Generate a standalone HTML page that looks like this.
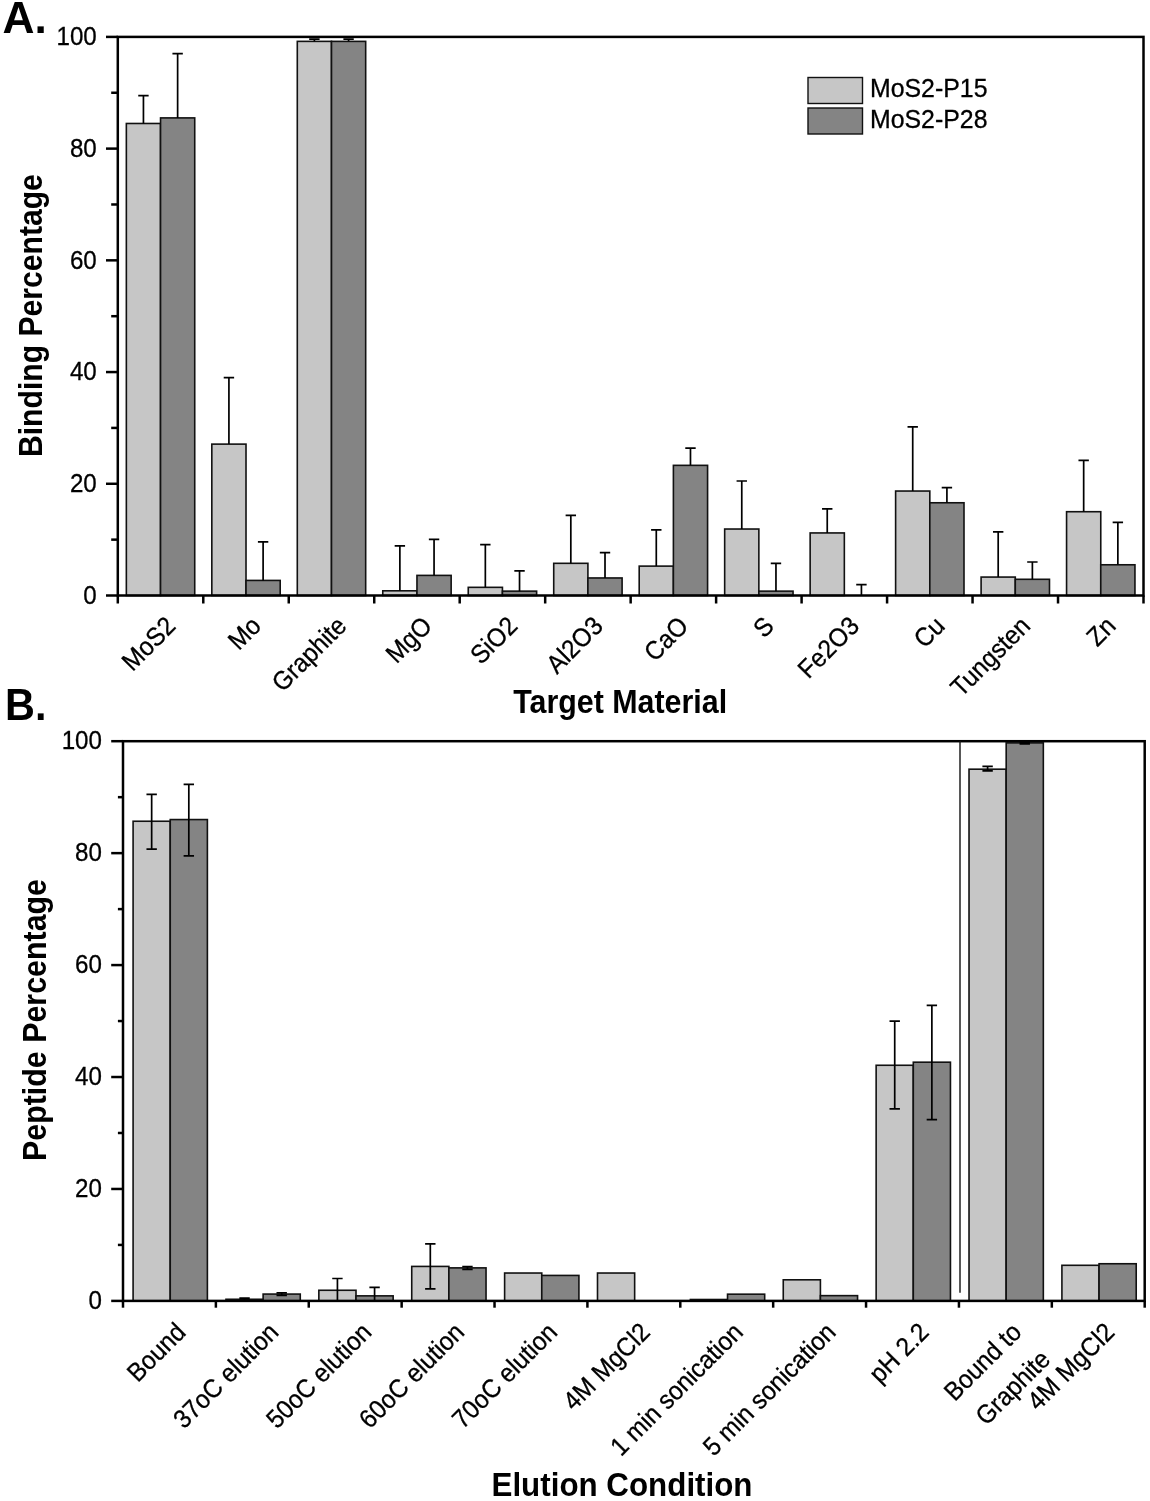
<!DOCTYPE html>
<html><head><meta charset="utf-8"><title>Figure</title><style>html,body{margin:0;padding:0;background:#fff}svg{will-change:transform}svg text{font-family:"Liberation Sans",sans-serif;-webkit-font-smoothing:antialiased}</style></head><body><svg width="1150" height="1501" viewBox="0 0 1150 1501" style="display:block">
<rect width="1150" height="1501" fill="#fff"/>
<g font-family="Liberation Sans, sans-serif" fill="#111">
<rect x="126.35" y="123.48" width="34.19" height="472.02" fill="#c6c6c6" stroke="#111" stroke-width="1.6"/>
<path d="M143.44 95.55V123.48M138.24 95.55H148.64" stroke="#000" stroke-width="1.7" fill="none"/>
<rect x="160.54" y="117.90" width="34.19" height="477.60" fill="#848484" stroke="#111" stroke-width="1.6"/>
<path d="M177.63 53.66V117.90M172.43 53.66H182.83" stroke="#000" stroke-width="1.7" fill="none"/>
<rect x="211.82" y="444.12" width="34.19" height="151.38" fill="#c6c6c6" stroke="#111" stroke-width="1.6"/>
<path d="M228.92 377.65V444.12M223.72 377.65H234.12" stroke="#000" stroke-width="1.7" fill="none"/>
<rect x="246.01" y="580.42" width="34.19" height="15.08" fill="#848484" stroke="#111" stroke-width="1.6"/>
<path d="M263.11 541.87V580.42M257.91 541.87H268.31" stroke="#000" stroke-width="1.7" fill="none"/>
<rect x="297.30" y="41.37" width="34.19" height="554.13" fill="#c6c6c6" stroke="#111" stroke-width="1.6"/>
<path d="M314.39 39.13V41.37M309.19 39.13H319.59" stroke="#000" stroke-width="1.7" fill="none"/>
<rect x="331.49" y="41.37" width="34.19" height="554.13" fill="#848484" stroke="#111" stroke-width="1.6"/>
<path d="M348.58 39.13V41.37M343.38 39.13H353.78" stroke="#000" stroke-width="1.7" fill="none"/>
<rect x="382.77" y="590.81" width="34.19" height="4.69" fill="#c6c6c6" stroke="#111" stroke-width="1.6"/>
<path d="M399.87 545.78V590.81M394.67 545.78H405.07" stroke="#000" stroke-width="1.7" fill="none"/>
<rect x="416.96" y="575.39" width="34.19" height="20.11" fill="#848484" stroke="#111" stroke-width="1.6"/>
<path d="M434.06 539.36V575.39M428.86 539.36H439.26" stroke="#000" stroke-width="1.7" fill="none"/>
<rect x="468.25" y="587.34" width="34.19" height="8.16" fill="#c6c6c6" stroke="#111" stroke-width="1.6"/>
<path d="M485.34 544.67V587.34M480.14 544.67H490.54" stroke="#000" stroke-width="1.7" fill="none"/>
<rect x="502.44" y="591.14" width="34.19" height="4.36" fill="#848484" stroke="#111" stroke-width="1.6"/>
<path d="M519.53 570.92V591.14M514.33 570.92H524.73" stroke="#000" stroke-width="1.7" fill="none"/>
<rect x="553.72" y="563.32" width="34.19" height="32.18" fill="#c6c6c6" stroke="#111" stroke-width="1.6"/>
<path d="M570.82 515.34V563.32M565.62 515.34H576.02" stroke="#000" stroke-width="1.7" fill="none"/>
<rect x="587.91" y="577.96" width="34.19" height="17.54" fill="#848484" stroke="#111" stroke-width="1.6"/>
<path d="M605.01 552.54V577.96M599.81 552.54H610.21" stroke="#000" stroke-width="1.7" fill="none"/>
<rect x="639.20" y="566.12" width="34.19" height="29.38" fill="#c6c6c6" stroke="#111" stroke-width="1.6"/>
<path d="M656.29 529.92V566.12M651.09 529.92H661.49" stroke="#000" stroke-width="1.7" fill="none"/>
<rect x="673.39" y="465.35" width="34.19" height="130.15" fill="#848484" stroke="#111" stroke-width="1.6"/>
<path d="M690.48 448.03V465.35M685.28 448.03H695.68" stroke="#000" stroke-width="1.7" fill="none"/>
<rect x="724.67" y="529.03" width="34.19" height="66.47" fill="#c6c6c6" stroke="#111" stroke-width="1.6"/>
<path d="M741.77 480.99V529.03M736.57 480.99H746.97" stroke="#000" stroke-width="1.7" fill="none"/>
<rect x="758.86" y="591.14" width="34.19" height="4.36" fill="#848484" stroke="#111" stroke-width="1.6"/>
<path d="M775.96 563.32V591.14M770.76 563.32H781.16" stroke="#000" stroke-width="1.7" fill="none"/>
<rect x="810.15" y="532.94" width="34.19" height="62.56" fill="#c6c6c6" stroke="#111" stroke-width="1.6"/>
<path d="M827.24 508.92V532.94M822.04 508.92H832.44" stroke="#000" stroke-width="1.7" fill="none"/>
<path d="M861.43 584.55V595.50M856.23 584.55H866.63" stroke="#000" stroke-width="1.7" fill="none"/>
<rect x="895.62" y="491.04" width="34.19" height="104.46" fill="#c6c6c6" stroke="#111" stroke-width="1.6"/>
<path d="M912.72 426.80V491.04M907.52 426.80H917.92" stroke="#000" stroke-width="1.7" fill="none"/>
<rect x="929.81" y="502.77" width="34.19" height="92.73" fill="#848484" stroke="#111" stroke-width="1.6"/>
<path d="M946.91 487.69V502.77M941.71 487.69H952.11" stroke="#000" stroke-width="1.7" fill="none"/>
<rect x="981.10" y="577.07" width="34.19" height="18.43" fill="#c6c6c6" stroke="#111" stroke-width="1.6"/>
<path d="M998.19 531.82V577.07M992.99 531.82H1003.39" stroke="#000" stroke-width="1.7" fill="none"/>
<rect x="1015.29" y="579.30" width="34.19" height="16.20" fill="#848484" stroke="#111" stroke-width="1.6"/>
<path d="M1032.38 561.98V579.30M1027.18 561.98H1037.58" stroke="#000" stroke-width="1.7" fill="none"/>
<rect x="1066.57" y="511.71" width="34.19" height="83.79" fill="#c6c6c6" stroke="#111" stroke-width="1.6"/>
<path d="M1083.67 460.32V511.71M1078.47 460.32H1088.87" stroke="#000" stroke-width="1.7" fill="none"/>
<rect x="1100.76" y="564.78" width="34.19" height="30.72" fill="#848484" stroke="#111" stroke-width="1.6"/>
<path d="M1117.86 522.32V564.78M1112.66 522.32H1123.06" stroke="#000" stroke-width="1.7" fill="none"/>
<rect x="117.8" y="36.9" width="1025.7" height="558.6" fill="none" stroke="#000" stroke-width="2.5"/>
<line x1="106.0" x2="117.8" y1="595.50" y2="595.50" stroke="#000" stroke-width="2.5"/>
<text transform="translate(96.80 603.70) scale(0.93 1)" font-size="26" text-anchor="end" fill="#000" stroke="#000" stroke-width="0.3">0</text>
<line x1="111.2" x2="117.8" y1="539.64" y2="539.64" stroke="#000" stroke-width="2.5"/>
<line x1="106.0" x2="117.8" y1="483.78" y2="483.78" stroke="#000" stroke-width="2.5"/>
<text transform="translate(96.80 491.98) scale(0.93 1)" font-size="26" text-anchor="end" fill="#000" stroke="#000" stroke-width="0.3">20</text>
<line x1="111.2" x2="117.8" y1="427.92" y2="427.92" stroke="#000" stroke-width="2.5"/>
<line x1="106.0" x2="117.8" y1="372.06" y2="372.06" stroke="#000" stroke-width="2.5"/>
<text transform="translate(96.80 380.26) scale(0.93 1)" font-size="26" text-anchor="end" fill="#000" stroke="#000" stroke-width="0.3">40</text>
<line x1="111.2" x2="117.8" y1="316.20" y2="316.20" stroke="#000" stroke-width="2.5"/>
<line x1="106.0" x2="117.8" y1="260.34" y2="260.34" stroke="#000" stroke-width="2.5"/>
<text transform="translate(96.80 268.54) scale(0.93 1)" font-size="26" text-anchor="end" fill="#000" stroke="#000" stroke-width="0.3">60</text>
<line x1="111.2" x2="117.8" y1="204.48" y2="204.48" stroke="#000" stroke-width="2.5"/>
<line x1="106.0" x2="117.8" y1="148.62" y2="148.62" stroke="#000" stroke-width="2.5"/>
<text transform="translate(96.80 156.82) scale(0.93 1)" font-size="26" text-anchor="end" fill="#000" stroke="#000" stroke-width="0.3">80</text>
<line x1="111.2" x2="117.8" y1="92.76" y2="92.76" stroke="#000" stroke-width="2.5"/>
<line x1="106.0" x2="117.8" y1="36.90" y2="36.90" stroke="#000" stroke-width="2.5"/>
<text transform="translate(96.80 45.10) scale(0.93 1)" font-size="26" text-anchor="end" fill="#000" stroke="#000" stroke-width="0.3">100</text>
<line x1="117.80" x2="117.80" y1="595.5" y2="603.5" stroke="#000" stroke-width="2.5"/>
<line x1="203.28" x2="203.28" y1="595.5" y2="603.5" stroke="#000" stroke-width="2.5"/>
<line x1="288.75" x2="288.75" y1="595.5" y2="603.5" stroke="#000" stroke-width="2.5"/>
<line x1="374.23" x2="374.23" y1="595.5" y2="603.5" stroke="#000" stroke-width="2.5"/>
<line x1="459.70" x2="459.70" y1="595.5" y2="603.5" stroke="#000" stroke-width="2.5"/>
<line x1="545.18" x2="545.18" y1="595.5" y2="603.5" stroke="#000" stroke-width="2.5"/>
<line x1="630.65" x2="630.65" y1="595.5" y2="603.5" stroke="#000" stroke-width="2.5"/>
<line x1="716.12" x2="716.12" y1="595.5" y2="603.5" stroke="#000" stroke-width="2.5"/>
<line x1="801.60" x2="801.60" y1="595.5" y2="603.5" stroke="#000" stroke-width="2.5"/>
<line x1="887.08" x2="887.08" y1="595.5" y2="603.5" stroke="#000" stroke-width="2.5"/>
<line x1="972.55" x2="972.55" y1="595.5" y2="603.5" stroke="#000" stroke-width="2.5"/>
<line x1="1058.03" x2="1058.03" y1="595.5" y2="603.5" stroke="#000" stroke-width="2.5"/>
<line x1="1143.50" x2="1143.50" y1="595.5" y2="603.5" stroke="#000" stroke-width="2.5"/>
<text transform="translate(177.04 627.50) rotate(-45) scale(0.93 1)" font-size="26" text-anchor="end" fill="#000" stroke="#000" stroke-width="0.3">MoS2</text>
<text transform="translate(262.51 627.50) rotate(-45) scale(0.93 1)" font-size="26" text-anchor="end" fill="#000" stroke="#000" stroke-width="0.3">Mo</text>
<text transform="translate(347.99 627.50) rotate(-45) scale(0.93 1)" font-size="26" text-anchor="end" fill="#000" stroke="#000" stroke-width="0.3">Graphite</text>
<text transform="translate(433.46 627.50) rotate(-45) scale(0.93 1)" font-size="26" text-anchor="end" fill="#000" stroke="#000" stroke-width="0.3">MgO</text>
<text transform="translate(518.94 627.50) rotate(-45) scale(0.93 1)" font-size="26" text-anchor="end" fill="#000" stroke="#000" stroke-width="0.3">SiO2</text>
<text transform="translate(604.41 627.50) rotate(-45) scale(0.93 1)" font-size="26" text-anchor="end" fill="#000" stroke="#000" stroke-width="0.3">Al2O3</text>
<text transform="translate(689.89 627.50) rotate(-45) scale(0.93 1)" font-size="26" text-anchor="end" fill="#000" stroke="#000" stroke-width="0.3">CaO</text>
<text transform="translate(775.36 627.50) rotate(-45) scale(0.93 1)" font-size="26" text-anchor="end" fill="#000" stroke="#000" stroke-width="0.3">S</text>
<text transform="translate(860.84 627.50) rotate(-45) scale(0.93 1)" font-size="26" text-anchor="end" fill="#000" stroke="#000" stroke-width="0.3">Fe2O3</text>
<text transform="translate(946.31 627.50) rotate(-45) scale(0.93 1)" font-size="26" text-anchor="end" fill="#000" stroke="#000" stroke-width="0.3">Cu</text>
<text transform="translate(1031.79 627.50) rotate(-45) scale(0.93 1)" font-size="26" text-anchor="end" fill="#000" stroke="#000" stroke-width="0.3">Tungsten</text>
<text transform="translate(1117.26 627.50) rotate(-45) scale(0.93 1)" font-size="26" text-anchor="end" fill="#000" stroke="#000" stroke-width="0.3">Zn</text>
<rect x="808" y="77.5" width="54.5" height="26" fill="#c6c6c6" stroke="#111" stroke-width="1.4"/>
<rect x="808" y="108" width="54.5" height="26" fill="#848484" stroke="#111" stroke-width="1.4"/>
<text transform="translate(870.00 97.00) scale(0.995 1)" font-size="25" text-anchor="start" fill="#000" stroke="#000" stroke-width="0.3">MoS2-P15</text>
<text transform="translate(870.00 128.20) scale(0.995 1)" font-size="25" text-anchor="start" fill="#000" stroke="#000" stroke-width="0.3">MoS2-P28</text>
<text transform="translate(2.50 33.00) scale(0.985 1)" font-size="45" text-anchor="start" font-weight="bold" fill="#000">A.</text>
<text transform="translate(620.20 713.20) scale(0.935 1)" font-size="32.5" text-anchor="middle" font-weight="bold" fill="#000">Target Material</text>
<text transform="translate(42.00 315.60) rotate(-90) scale(0.927 1)" font-size="32.5" text-anchor="middle" font-weight="bold" fill="#000">Binding Percentage</text>
<rect x="133.09" y="821.24" width="37.15" height="479.66" fill="#c6c6c6" stroke="#111" stroke-width="1.6"/>
<path d="M151.66 794.37V849.22M146.46 794.37H156.86M146.46 849.22H156.86" stroke="#000" stroke-width="1.7" fill="none"/>
<rect x="170.24" y="819.56" width="37.15" height="481.34" fill="#848484" stroke="#111" stroke-width="1.6"/>
<path d="M188.82 784.30V855.94M183.62 784.30H194.02M183.62 855.94H194.02" stroke="#000" stroke-width="1.7" fill="none"/>
<rect x="225.97" y="1299.28" width="37.15" height="1.62" fill="#c6c6c6" stroke="#111" stroke-width="1.6"/>
<path d="M244.55 1298.10V1300.34M239.35 1298.10H249.75M239.35 1300.34H249.75" stroke="#000" stroke-width="1.7" fill="none"/>
<rect x="263.12" y="1294.07" width="37.15" height="6.83" fill="#848484" stroke="#111" stroke-width="1.6"/>
<path d="M281.70 1292.78V1295.30M276.50 1292.78H286.90M276.50 1295.30H286.90" stroke="#000" stroke-width="1.7" fill="none"/>
<rect x="318.85" y="1290.27" width="37.15" height="10.63" fill="#c6c6c6" stroke="#111" stroke-width="1.6"/>
<path d="M337.43 1278.51V1300.90M332.23 1278.51H342.63" stroke="#000" stroke-width="1.7" fill="none"/>
<rect x="356.00" y="1295.86" width="37.15" height="5.04" fill="#848484" stroke="#111" stroke-width="1.6"/>
<path d="M374.58 1287.47V1300.90M369.38 1287.47H379.78" stroke="#000" stroke-width="1.7" fill="none"/>
<rect x="411.73" y="1266.42" width="37.15" height="34.48" fill="#c6c6c6" stroke="#111" stroke-width="1.6"/>
<path d="M430.31 1243.81V1288.87M425.11 1243.81H435.51M425.11 1288.87H435.51" stroke="#000" stroke-width="1.7" fill="none"/>
<rect x="448.89" y="1267.88" width="37.15" height="33.02" fill="#848484" stroke="#111" stroke-width="1.6"/>
<path d="M467.46 1266.48V1269.28M462.26 1266.48H472.66M462.26 1269.28H472.66" stroke="#000" stroke-width="1.7" fill="none"/>
<rect x="504.62" y="1273.03" width="37.15" height="27.87" fill="#c6c6c6" stroke="#111" stroke-width="1.6"/>
<rect x="541.77" y="1275.43" width="37.15" height="25.47" fill="#848484" stroke="#111" stroke-width="1.6"/>
<rect x="597.50" y="1273.03" width="37.15" height="27.87" fill="#c6c6c6" stroke="#111" stroke-width="1.6"/>
<rect x="690.38" y="1299.50" width="37.15" height="1.40" fill="#c6c6c6" stroke="#111" stroke-width="1.6"/>
<rect x="727.53" y="1294.18" width="37.15" height="6.72" fill="#848484" stroke="#111" stroke-width="1.6"/>
<rect x="783.26" y="1279.80" width="37.15" height="21.10" fill="#c6c6c6" stroke="#111" stroke-width="1.6"/>
<rect x="820.41" y="1295.64" width="37.15" height="5.26" fill="#848484" stroke="#111" stroke-width="1.6"/>
<rect x="876.14" y="1065.27" width="37.15" height="235.63" fill="#c6c6c6" stroke="#111" stroke-width="1.6"/>
<path d="M894.72 1021.05V1108.92M889.52 1021.05H899.92M889.52 1108.92H899.92" stroke="#000" stroke-width="1.7" fill="none"/>
<rect x="913.30" y="1062.19" width="37.15" height="238.71" fill="#848484" stroke="#111" stroke-width="1.6"/>
<path d="M931.87 1005.38V1119.56M926.67 1005.38H937.07M926.67 1119.56H937.07" stroke="#000" stroke-width="1.7" fill="none"/>
<rect x="969.02" y="769.19" width="37.15" height="531.72" fill="#c6c6c6" stroke="#111" stroke-width="1.6"/>
<path d="M987.60 766.39V770.86M982.40 766.39H992.80M982.40 770.86H992.80" stroke="#000" stroke-width="1.7" fill="none"/>
<rect x="1006.18" y="742.88" width="37.15" height="558.02" fill="#848484" stroke="#111" stroke-width="1.6"/>
<path d="M1024.75 742.32V744.00M1019.55 742.32H1029.95M1019.55 744.00H1029.95" stroke="#000" stroke-width="1.7" fill="none"/>
<rect x="1061.91" y="1265.30" width="37.15" height="35.60" fill="#c6c6c6" stroke="#111" stroke-width="1.6"/>
<rect x="1099.06" y="1263.74" width="37.15" height="37.16" fill="#848484" stroke="#111" stroke-width="1.6"/>
<rect x="123" y="741.2" width="1021.7" height="559.7" fill="none" stroke="#000" stroke-width="2.5"/>
<line x1="111.2" x2="123" y1="1300.90" y2="1300.90" stroke="#000" stroke-width="2.5"/>
<text transform="translate(102.00 1309.10) scale(0.93 1)" font-size="26" text-anchor="end" fill="#000" stroke="#000" stroke-width="0.3">0</text>
<line x1="117.9" x2="123" y1="1244.93" y2="1244.93" stroke="#000" stroke-width="2.5"/>
<line x1="111.2" x2="123" y1="1188.96" y2="1188.96" stroke="#000" stroke-width="2.5"/>
<text transform="translate(102.00 1197.16) scale(0.93 1)" font-size="26" text-anchor="end" fill="#000" stroke="#000" stroke-width="0.3">20</text>
<line x1="117.9" x2="123" y1="1132.99" y2="1132.99" stroke="#000" stroke-width="2.5"/>
<line x1="111.2" x2="123" y1="1077.02" y2="1077.02" stroke="#000" stroke-width="2.5"/>
<text transform="translate(102.00 1085.22) scale(0.93 1)" font-size="26" text-anchor="end" fill="#000" stroke="#000" stroke-width="0.3">40</text>
<line x1="117.9" x2="123" y1="1021.05" y2="1021.05" stroke="#000" stroke-width="2.5"/>
<line x1="111.2" x2="123" y1="965.08" y2="965.08" stroke="#000" stroke-width="2.5"/>
<text transform="translate(102.00 973.28) scale(0.93 1)" font-size="26" text-anchor="end" fill="#000" stroke="#000" stroke-width="0.3">60</text>
<line x1="117.9" x2="123" y1="909.11" y2="909.11" stroke="#000" stroke-width="2.5"/>
<line x1="111.2" x2="123" y1="853.14" y2="853.14" stroke="#000" stroke-width="2.5"/>
<text transform="translate(102.00 861.34) scale(0.93 1)" font-size="26" text-anchor="end" fill="#000" stroke="#000" stroke-width="0.3">80</text>
<line x1="117.9" x2="123" y1="797.17" y2="797.17" stroke="#000" stroke-width="2.5"/>
<line x1="111.2" x2="123" y1="741.20" y2="741.20" stroke="#000" stroke-width="2.5"/>
<text transform="translate(102.00 749.40) scale(0.93 1)" font-size="26" text-anchor="end" fill="#000" stroke="#000" stroke-width="0.3">100</text>
<line x1="123.00" x2="123.00" y1="1300.9" y2="1307.7" stroke="#000" stroke-width="2.5"/>
<line x1="215.88" x2="215.88" y1="1300.9" y2="1307.7" stroke="#000" stroke-width="2.5"/>
<line x1="308.76" x2="308.76" y1="1300.9" y2="1307.7" stroke="#000" stroke-width="2.5"/>
<line x1="401.65" x2="401.65" y1="1300.9" y2="1307.7" stroke="#000" stroke-width="2.5"/>
<line x1="494.53" x2="494.53" y1="1300.9" y2="1307.7" stroke="#000" stroke-width="2.5"/>
<line x1="587.41" x2="587.41" y1="1300.9" y2="1307.7" stroke="#000" stroke-width="2.5"/>
<line x1="680.29" x2="680.29" y1="1300.9" y2="1307.7" stroke="#000" stroke-width="2.5"/>
<line x1="773.17" x2="773.17" y1="1300.9" y2="1307.7" stroke="#000" stroke-width="2.5"/>
<line x1="866.05" x2="866.05" y1="1300.9" y2="1307.7" stroke="#000" stroke-width="2.5"/>
<line x1="958.94" x2="958.94" y1="1300.9" y2="1307.7" stroke="#000" stroke-width="2.5"/>
<line x1="1051.82" x2="1051.82" y1="1300.9" y2="1307.7" stroke="#000" stroke-width="2.5"/>
<line x1="1144.70" x2="1144.70" y1="1300.9" y2="1307.7" stroke="#000" stroke-width="2.5"/>
<text transform="translate(187.14 1333.80) rotate(-45) scale(0.93 1)" font-size="26" text-anchor="end" fill="#000" stroke="#000" stroke-width="0.3">Bound</text>
<text transform="translate(280.02 1333.80) rotate(-45) scale(0.93 1)" font-size="26" text-anchor="end" fill="#000" stroke="#000" stroke-width="0.3">37oC elution</text>
<text transform="translate(372.90 1333.80) rotate(-45) scale(0.93 1)" font-size="26" text-anchor="end" fill="#000" stroke="#000" stroke-width="0.3">50oC elution</text>
<text transform="translate(465.79 1333.80) rotate(-45) scale(0.93 1)" font-size="26" text-anchor="end" fill="#000" stroke="#000" stroke-width="0.3">60oC elution</text>
<text transform="translate(558.67 1333.80) rotate(-45) scale(0.93 1)" font-size="26" text-anchor="end" fill="#000" stroke="#000" stroke-width="0.3">70oC elution</text>
<text transform="translate(651.55 1333.80) rotate(-45) scale(0.93 1)" font-size="26" text-anchor="end" fill="#000" stroke="#000" stroke-width="0.3">4M MgCl2</text>
<text transform="translate(744.43 1333.80) rotate(-45) scale(0.93 1)" font-size="26" text-anchor="end" fill="#000" stroke="#000" stroke-width="0.3">1 min sonication</text>
<text transform="translate(837.31 1333.80) rotate(-45) scale(0.93 1)" font-size="26" text-anchor="end" fill="#000" stroke="#000" stroke-width="0.3">5 min sonication</text>
<text transform="translate(930.20 1333.80) rotate(-45) scale(0.93 1)" font-size="26" text-anchor="end" fill="#000" stroke="#000" stroke-width="0.3">pH 2.2</text>
<text transform="translate(1023.08 1333.80) rotate(-45) scale(0.93 1)" font-size="26" text-anchor="end" fill="#000" stroke="#000" stroke-width="0.3">Bound to</text>
<text transform="translate(1051.71 1361.03) rotate(-45) scale(0.93 1)" font-size="26" text-anchor="end" fill="#000" stroke="#000" stroke-width="0.3">Graphite</text>
<text transform="translate(1115.96 1333.80) rotate(-45) scale(0.93 1)" font-size="26" text-anchor="end" fill="#000" stroke="#000" stroke-width="0.3">4M MgCl2</text>
<line x1="960" x2="960" y1="741" y2="1292.8" stroke="#111" stroke-width="1.4"/>
<text transform="translate(5.00 720.00) scale(0.92 1)" font-size="45" text-anchor="start" font-weight="bold" fill="#000">B.</text>
<text transform="translate(622.00 1496.40) scale(0.9645 1)" font-size="32.5" text-anchor="middle" font-weight="bold" fill="#000">Elution Condition</text>
<text transform="translate(45.80 1020.00) rotate(-90) scale(0.935 1)" font-size="32.5" text-anchor="middle" font-weight="bold" fill="#000">Peptide Percentage</text>
</g></svg></body></html>
